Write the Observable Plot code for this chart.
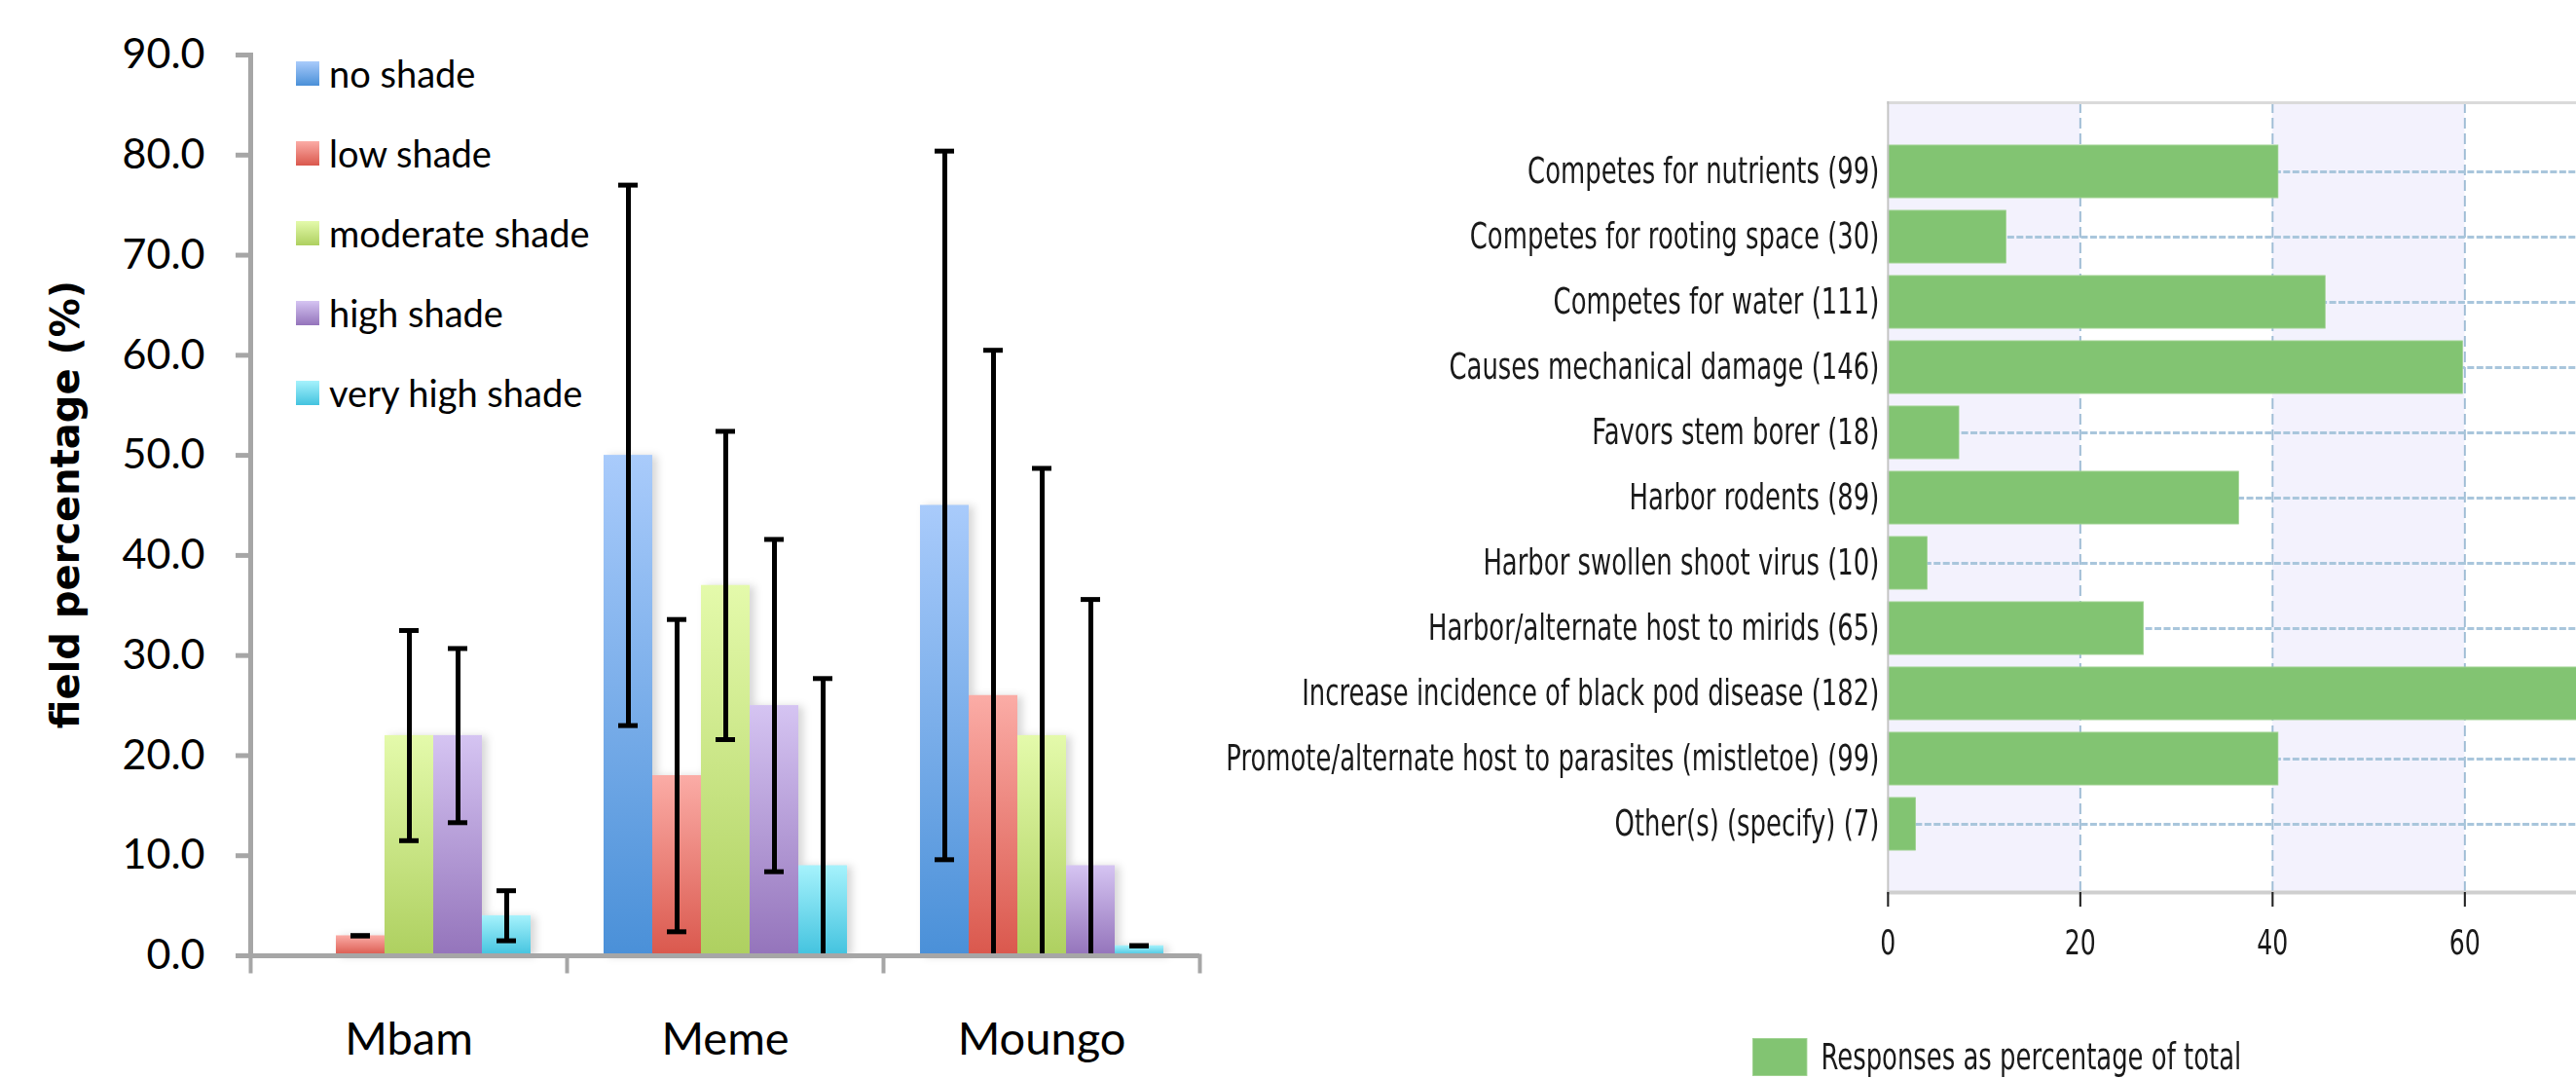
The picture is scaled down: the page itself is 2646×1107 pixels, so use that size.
<!DOCTYPE html>
<html><head><meta charset="utf-8">
<script src="https://cdn.jsdelivr.net/npm/d3@7"></script>
<script src="https://cdn.jsdelivr.net/npm/@observablehq/plot@0.6"></script>
<style>
html,body{margin:0;padding:0;background:#fff;overflow:hidden;width:2646px;height:1107px;}
#wrap{position:relative;width:2646px;height:1107px;overflow:hidden;}
#left{position:absolute;left:0;top:0;}
#left svg,#rightbox svg{max-width:none !important;}
#rightbox{position:absolute;left:1250px;top:0;transform-origin:0 0;}
#ytitle{position:absolute;left:67px;top:518px;transform:translate(-50%,-50%) rotate(-90deg);font:bold 40px "DejaVu Sans",sans-serif;white-space:nowrap;color:#000;}
.lg{position:absolute;display:flex;align-items:center;white-space:nowrap;}
.lg .sw{display:inline-block;flex:none;}
</style></head><body>
<div id="wrap">
  <div id="left"></div>
  <div id="ytitle">field percentage (%)</div>
  <div id="legendL"></div>
  <div id="rightbox"><div id="right"></div><div id="legendR"></div></div>
</div>
<script>
// ---------- left chart data ----------
const regions = ["Mbam", "Meme", "Moungo"];
const shades = ["no shade", "low shade", "moderate shade", "high shade", "very high shade"];
const noShade       = [0.0, 50.0, 45.0];
const lowShade      = [2.0, 18.0, 26.0];
const moderateShade = [22.0, 37.0, 22.0];
const highShade     = [22.0, 25.0, 9.0];
const veryHighShade = [4.0, 9.0, 1.0];
const sdNoShade       = [0.0, 27.0, 35.4];
const sdLowShade      = [0.0, 15.6, 34.5];
const sdModerateShade = [10.5, 15.4, 26.7];
const sdHighShade     = [8.7, 16.6, 26.6];
const sdVeryHighShade = [2.5, 18.7, 0.0];
const yTicks = [0, 10, 20, 30, 40, 50, 60, 70, 80, 90];

// ---------- right chart data ----------
const factors = [
  "Competes for nutrients (99)",
  "Competes for rooting space (30)",
  "Competes for water (111)",
  "Causes mechanical damage (146)",
  "Favors stem borer (18)",
  "Harbor rodents (89)",
  "Harbor swollen shoot virus (10)",
  "Harbor/alternate host to mirids (65)",
  "Increase incidence of black pod disease (182)",
  "Promote/alternate host to parasites (mistletoe) (99)",
  "Other(s) (specify) (7)"
];
const responsesPct = [40.6, 12.3, 45.5, 59.8, 7.4, 36.5, 4.1, 26.6, 74.6, 40.6, 2.9];
const xTicks = [0, 20, 40, 60, 80];          // grid / band boundaries
const xTickLabels = [0, 20, 40, 60];         // labels visible in the (cropped) panel
const legendRight = "Responses as percentage of total";

// ---------- styles ----------
const gradTop    = ["#a9cbfb", "#fbaca6", "#e4faab", "#d5c4f2", "#a6f2fc"];
const gradBottom = ["#4a90d8", "#da584d", "#aed060", "#9474bb", "#43c3df"];
const grey = "#a6a6a6";
const leftFont = 'Lato,"Liberation Sans",sans-serif';
const rightFont = '"DejaVu Sans",Verdana,sans-serif';
const squeeze = 0.7; // horizontal compression of the right panel's lettering

// gradients
const defs = d3.select("body").append("svg")
  .attr("width", 0).attr("height", 0)
  .style("position", "absolute").style("left", 0).style("top", 0)
  .append("defs");
shades.forEach((s, j) => {
  const g = defs.append("linearGradient").attr("id", "g" + j)
    .attr("x1", 0).attr("y1", 0).attr("x2", 0).attr("y2", 1);
  g.append("stop").attr("offset", "0%").attr("stop-color", gradTop[j]);
  g.append("stop").attr("offset", "100%").attr("stop-color", gradBottom[j]);
});

// table for the library
const means = [noShade, lowShade, moderateShade, highShade, veryHighShade];
const sds = [sdNoShade, sdLowShade, sdModerateShade, sdHighShade, sdVeryHighShade];
const table = [];
regions.forEach((r, i) => shades.forEach((s, j) => {
  const m = means[j][i], e = sds[j][i];
  table.push({region: r, shade: s, value: m, lo: Math.max(0, m - e), hi: m + e, loCap: m - e >= 0, fill: `url(#g${j})`});
}));

const left = Plot.plot({
  width: 1250, height: 1107,
  marginLeft: 257, marginRight: 18, marginTop: 56, marginBottom: 126,
  fx: {domain: regions, padding: 0, label: null},
  x: {domain: shades, paddingInner: 0, paddingOuter: 0.75, axis: null},
  y: {domain: [0, 90], axis: null},
  color: {type: "identity"},
  style: {fontFamily: leftFont, background: "transparent", color: "#000"},
  marks: [
    Plot.barY(table, {fx: "region", x: "shade", y: "value", fill: "fill", imageFilter: "drop-shadow(5px 1px 4px rgba(0,0,0,0.16))"}),
    Plot.ruleX(table, {fx: "region", x: "shade", y1: "lo", y2: "hi", stroke: "#000", strokeWidth: 5}),
    Plot.tickY(table, {fx: "region", x: "shade", y: "hi", stroke: "#000", strokeWidth: 5, insetLeft: 15, insetRight: 15}),
    Plot.tickY(table.filter(d => d.loCap), {fx: "region", x: "shade", y: "lo", stroke: "#000", strokeWidth: 5, insetLeft: 15, insetRight: 15}),
    Plot.ruleY([0], {stroke: grey, strokeWidth: 5}),
    Plot.frame({anchor: "left", facetAnchor: "left", stroke: grey, strokeWidth: 5}),
    Plot.frame({anchor: "left", stroke: grey, strokeWidth: 4, insetTop: 909, dy: 16}),
    Plot.frame({anchor: "right", facetAnchor: "right", stroke: grey, strokeWidth: 4, insetTop: 909, dy: 16}),
    Plot.axisY({ticks: yTicks, tickFormat: d => d.toFixed(1), tickSize: 15, tickPadding: 32, fontSize: 43, stroke: grey, strokeWidth: 5, label: null}),
    Plot.axisFx({anchor: "bottom", tickSize: 0, tickPadding: 68, fontSize: 47, label: null})
  ]
});
document.getElementById("left").appendChild(left);

// left legend
const legL = d3.select("#legendL");
shades.forEach((s, j) => {
  const it = legL.append("div").attr("class", "lg")
    .style("left", "304px").style("top", (75 + 82 * j - 25) + "px").style("height", "50px")
    .style("font-family", leftFont).style("font-size", "38px").style("color", "#000");
  it.append("span").attr("class", "sw")
    .style("width", "24px").style("height", "25px").style("margin-right", "10px")
    .style("background", `linear-gradient(${gradTop[j]}, ${gradBottom[j]})`);
  it.append("span").text(s);
});

// right chart (drawn wide, then compressed horizontally like the source panel)
const v = px => px / squeeze;
const rows = factors.map((f, i) => ({factor: f, value: responsesPct[i]}));
const bands = xTicks.slice(0, -1).map((t, i) => ({x1: t, x2: xTicks[i + 1], k: i})).filter(d => d.k % 2 === 0);
const right = Plot.plot({
  width: v(1499), height: 1107,
  marginLeft: v(689), marginRight: v(20), marginTop: 105, marginBottom: 191,
  x: {domain: [0, 80], axis: null},
  y: {domain: factors, paddingInner: 0.2, paddingOuter: 0.63, axis: null},
  style: {fontFamily: rightFont, background: "transparent", color: "#1a1a1a"},
  marks: [
    Plot.rectX(bands, {x1: "x1", x2: "x2", fill: "#f3f2fd"}),
    Plot.ruleX(xTicks.filter(t => t > 0), {stroke: "#9fbdd5", strokeWidth: 2.8, strokeDasharray: "11,5"}),
    Plot.ruleY(factors, {stroke: "#a9c6dc", strokeWidth: 3, strokeDasharray: "10,3.5"}),
    Plot.barX(rows, {y: "factor", x: "value", fill: "#82c472", stroke: "#9fd290", strokeWidth: 1}),
    Plot.frame({anchor: "top", stroke: "#dadada", strokeWidth: 3}),
    Plot.frame({anchor: "bottom", stroke: "#cfcfcf", strokeWidth: 4}),
    Plot.frame({anchor: "left", stroke: "#c4c4c4", strokeWidth: 2.8}),
    Plot.axisY({tickSize: 0, tickPadding: v(9), fontSize: 37, label: null}),
    Plot.axisX({ticks: xTickLabels, tickSize: 15, tickPadding: 23, fontSize: 36, stroke: "#222", strokeWidth: 3, label: null})
  ]
});
document.getElementById("right").appendChild(right);
d3.select("#rightbox").style("width", v(1499) + "px").style("height", "1107px")
  .style("transform", `scaleX(${squeeze})`);

// right legend (inside the compressed box)
const legR = d3.select("#legendR").append("div").attr("class", "lg")
  .style("left", v(1800 - 1250) + "px").style("top", "1064px").style("height", "43px")
  .style("font-family", rightFont).style("font-size", "37px").style("color", "#1a1a1a");
legR.append("span").attr("class", "sw")
  .style("width", v(55) + "px").style("height", "37px").style("margin-right", v(14) + "px")
  .style("background", "#82c472").style("border", "1px solid #9fd290");
legR.append("span").text(legendRight);
</script>
</body></html>
